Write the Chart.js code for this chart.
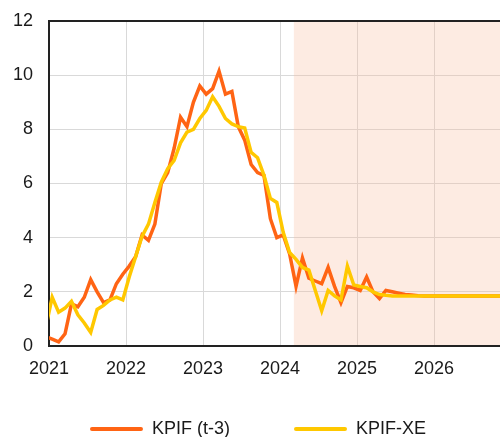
<!DOCTYPE html>
<html>
<head>
<meta charset="utf-8">
<script src="https://cdn.jsdelivr.net/npm/chart.js@4/dist/chart.umd.min.js"></script>
<style>
  html, body { margin: 0; padding: 0; background: #ffffff; overflow: hidden; }
  #wrap { width: 500px; height: 437px; position: relative; }
</style>
</head>
<body>
<div id="wrap"><canvas id="c"></canvas></div>
<script>
// Monthly observations, December 2020 through November 2026 (percent, annual change)
const firstMonth = { year: 2020, month: 12 };

const kpifT3 = [
  0.35,                                                             // 2020-12
  0.25, 0.15, 0.45, 1.55, 1.45, 1.8, 2.45, 2.0, 1.6, 1.7, 2.3, 2.65,  // 2021
  2.95, 3.3, 4.1, 3.9, 4.5, 6.0, 6.4, 7.3, 8.45, 8.1, 9.0, 9.6,       // 2022
  9.3, 9.5, 10.15, 9.3, 9.4, 8.1, 7.6, 6.7, 6.4, 6.3, 4.7, 4.0,       // 2023
  4.1, 3.4, 2.2, 3.25, 2.5, 2.4, 2.3, 2.9, 2.2, 1.6, 2.2, 2.15,       // 2024
  2.05, 2.55, 2.0, 1.75, 2.05, 2.0, 1.95, 1.9, 1.88, 1.86, 1.85, 1.85, // 2025
  1.85, 1.85, 1.85, 1.85, 1.85, 1.85, 1.85, 1.85, 1.85, 1.85, 1.85    // 2026
];

const kpifXE = [
  0.7,                                                              // 2020-12
  1.8, 1.25, 1.4, 1.65, 1.15, 0.85, 0.5, 1.35, 1.5, 1.7, 1.8, 1.7,    // 2021
  2.55, 3.3, 4.05, 4.5, 5.3, 6.05, 6.55, 6.85, 7.5, 7.9, 8.0, 8.4,    // 2022
  8.7, 9.2, 8.85, 8.4, 8.2, 8.1, 8.05, 7.15, 6.95, 6.3, 5.45, 5.3,    // 2023
  4.2, 3.45, 3.2, 2.9, 2.8, 2.05, 1.3, 2.05, 1.85, 1.7, 2.95, 2.25,   // 2024
  2.2, 2.15, 2.0, 1.9, 1.87, 1.85, 1.85, 1.85, 1.85, 1.85, 1.85, 1.85, // 2025
  1.85, 1.85, 1.85, 1.85, 1.85, 1.85, 1.85, 1.85, 1.85, 1.85, 1.85    // 2026
];

const seriesNames = ['KPIF (t-3)', 'KPIF-XE'];
const yearTicks = [2021, 2022, 2023, 2024, 2025, 2026];
const valueTicks = [0, 2, 4, 6, 8, 10, 12];
const forecastStart = 2024.18;   // start of the projection period
const axisEnd = 2026.857;

// each month sits in the middle of its slot on the year axis
const monthPos = kpifT3.map((_, i) => {
  const m = firstMonth.month - 1 + i;
  return firstMonth.year + Math.floor(m / 12) + ((m % 12) + 0.5) / 12;
});
const toPoints = vals => vals.map((v, i) => ({ x: monthPos[i], y: v }));

const FONT = 'Liberation Sans, Arial, Helvetica, sans-serif';
const TEXT = '#1a1a1a';
const AXIS = '#222222';
const GRID = '#d9d9d9';

// light band behind the projection period
const forecastShade = {
  id: 'forecastShade',
  beforeDatasetsDraw(chart) {
    const { ctx, chartArea, scales } = chart;
    const x0 = scales.x.getPixelForValue(forecastStart);
    ctx.save();
    ctx.fillStyle = 'rgba(247, 190, 160, 0.3)';
    ctx.fillRect(x0, chartArea.top + 1, chartArea.right - x0, chartArea.bottom - chartArea.top - 2);
    ctx.restore();
  }
};

// nudge the legend row into place below the axis labels
const legendPlacement = {
  id: 'legendPlacement',
  afterLayout(chart) {
    const lg = chart.legend;
    if (!lg) return;
    lg.left += 8; lg.right += 8;
    lg.top -= 24; lg.bottom -= 24;
  }
};

new Chart(document.getElementById('c'), {
  type: 'line',
  data: {
    datasets: [
      {
        label: seriesNames[0],
        data: toPoints(kpifT3),
        borderColor: '#ff6414',
        backgroundColor: '#ff6414',
        borderWidth: 3.5,
        pointRadius: 0,
        tension: 0,
        order: 1,
        clip: { left: 0, top: 3, right: 0, bottom: 3 }
      },
      {
        label: seriesNames[1],
        data: toPoints(kpifXE),
        borderColor: '#ffc800',
        backgroundColor: '#ffc800',
        borderWidth: 3.5,
        pointRadius: 0,
        tension: 0,
        order: 0,
        clip: { left: 0, top: 3, right: 0, bottom: 3 }
      }
    ]
  },
  options: {
    responsive: true,
    maintainAspectRatio: false,
    animation: false,
    devicePixelRatio: 1,
    layout: { padding: { top: 21, left: 0, right: 0, bottom: -35 } },
    scales: {
      x: {
        type: 'linear',
        min: 2021,
        max: axisEnd,
        afterFit(scale) { scale.height = 34; },
        afterBuildTicks(scale) { scale.ticks = yearTicks.map(v => ({ value: v })); },
        ticks: {
          includeBounds: false,
          padding: 12,
          maxRotation: 0,
          autoSkip: false,
          color: TEXT,
          font: { family: FONT, size: 18 },
          callback: v => String(v)
        },
        grid: {
          drawTicks: false,
          color: GRID,
          lineWidth: 1
        },
        border: { display: true, color: AXIS, width: 2 }
      },
      y: {
        min: 0,
        max: 12,
        afterFit(scale) {
          scale.width = 49;
          scale.paddingTop = 0;
          scale.paddingBottom = 0;
        },
        afterBuildTicks(scale) { scale.ticks = valueTicks.map(v => ({ value: v })); },
        ticks: {
          padding: 16,
          color: TEXT,
          font: { family: FONT, size: 18 },
          callback: v => String(v)
        },
        grid: {
          drawTicks: false,
          color: c => (c.tick && (c.tick.value === 12 || c.tick.value === 0)) ? AXIS : GRID,
          lineWidth: c => (c.tick && c.tick.value === 12) ? 2 : 1
        },
        border: { display: true, color: AXIS, width: 2 }
      }
    },
    plugins: {
      tooltip: { enabled: false },
      legend: {
        position: 'bottom',
        align: 'center',
        labels: {
          boxWidth: 53,
          boxHeight: 4,
          padding: 64,
          color: TEXT,
          font: { family: FONT, size: 18 },
          useBorderRadius: true,
          borderRadius: 2,
          sort: (a, b) => a.datasetIndex - b.datasetIndex,
          generateLabels(chart) {
            const items = Chart.defaults.plugins.legend.labels.generateLabels(chart);
            items.forEach(it => { it.lineWidth = 0; it.fillStyle = it.strokeStyle; });
            return items;
          }
        }
      }
    }
  },
  plugins: [forecastShade, legendPlacement]
});
</script>
</body>
</html>
